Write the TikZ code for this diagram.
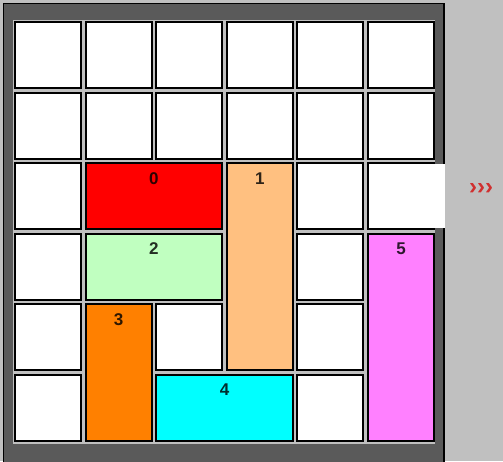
\documentclass[tikz,border=0pt]{standalone}
\usepackage{fontspec}
\setmainfont{Liberation Sans}
\definecolor{bggray}{HTML}{C0C0C0}
\definecolor{framegray}{HTML}{5A5A5A}
\definecolor{bred}{HTML}{FF0000}
\definecolor{bpeach}{HTML}{FFC080}
\definecolor{bgreen}{HTML}{C0FFC0}
\definecolor{borange}{HTML}{FF8000}
\definecolor{bcyan}{HTML}{00FFFF}
\definecolor{bpink}{HTML}{FF80FF}
\definecolor{chev}{HTML}{D03030}
\newcommand{\blockpiece}[7]{%
  \draw[blockbox,fill=#1] ({15+70.6*#2},{22+70.6*#3}) rectangle ({81+70.6*#4},{88+70.6*#5});
  \node[numlabel,text=#1!18!black] (#7) at ({(96+70.6*#2+70.6*#4)/2},{37+70.6*#3}) {#6};}
\begin{document}
\begin{tikzpicture}[x=1pt,y=-1pt,
  cellbox/.style={draw=black,line width=2pt,fill=white},
  blockbox/.style={draw=black,line width=2pt},
  numlabel/.style={font=\bfseries\fontsize{17}{17}\selectfont,inner sep=0pt}]
\useasboundingbox (0,0) rectangle (503,461);
\fill[bggray] (0,0) rectangle (503,461);
\draw[fill=framegray,draw=black,line width=1.5pt] (3.5,3.5) rectangle (444,470);
\fill[bggray] (13,20) rectangle (435,444);
\foreach \c in {0,...,5}{
  \foreach \r in {0,...,5}{
    \draw[cellbox] ({15+70.6*\c},{22+70.6*\r}) rectangle ({81+70.6*\c},{88+70.6*\r});
  }
}
\fill[white] (433,164) rectangle (445,228);
\blockpiece{bred}{1}{2}{2}{2}{0}{b0}
\blockpiece{bpeach}{3}{2}{3}{4}{1}{b1}
\blockpiece{bgreen}{1}{3}{2}{3}{2}{b2}
\blockpiece{borange}{1}{4}{1}{5}{3}{b3}
\blockpiece{bcyan}{2}{5}{3}{5}{4}{b4}
\blockpiece{bpink}{5}{3}{5}{5}{5}{b5}
\node[text=chev,font=\bfseries\fontsize{24}{24}\selectfont,inner sep=0pt] (exit) at (481,189) {›››};
\end{tikzpicture}
\end{document}
